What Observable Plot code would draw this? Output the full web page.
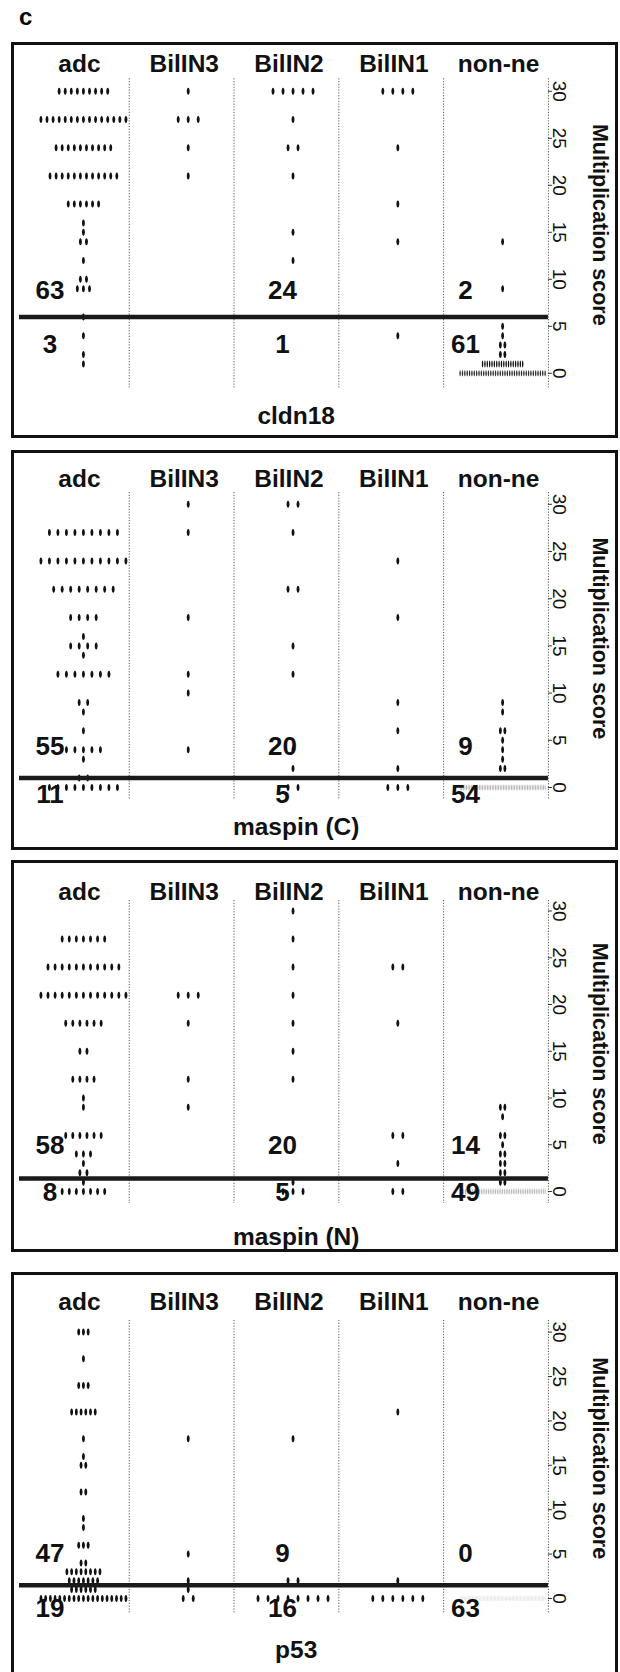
<!DOCTYPE html>
<html><head><meta charset="utf-8">
<script src="https://cdn.jsdelivr.net/npm/d3@7"></script>
<script src="https://cdn.jsdelivr.net/npm/@observablehq/plot@0.6"></script>
<style>
body{margin:0;background:#fff;width:620px;height:1672px;position:relative;overflow:hidden;font-family:"Liberation Sans",Arial,sans-serif;}
.panel{position:absolute;left:11px;width:607px;border:3px solid #111;box-sizing:border-box;background:#fff;}
.panel svg{display:block;overflow:visible;}
.letter{position:absolute;left:19px;top:3px;font-weight:bold;font-size:24px;}
</style></head><body>
<div class="letter">c</div>
<script>
// ---- categories / labels ----
const categories = ["adc", "BilIN3", "BilIN2", "BilIN1", "non-ne"];
const markers = ["cldn18", "maspin (C)", "maspin (N)", "p53"];
const yTicks = [0, 5, 10, 15, 20, 25, 30];
const axisTitle = "Multiplication score";

// ---- data: [score, number of cases] ----
const cldn18_adc    = [[30,9],[27,15],[24,10],[21,12],[18,6],[16,1],[15,1],[14,2],[12,1],[10,2],[9,3],[6,1],[4,1],[2,1],[1,1]];
const cldn18_bilin3 = [[30,1],[27,3],[24,1],[21,1]];
const cldn18_bilin2 = [[30,5],[27,1],[24,2],[21,1],[15,1],[12,1]];
const cldn18_bilin1 = [[30,4],[24,1],[18,1],[14,1],[4,1]];
const cldn18_nonne  = [[14,1],[9,1],[5,1],[4,1],[3,2],[2,2],[1,18],[0,37]];

const maspinC_adc    = [[27,9],[24,11],[21,8],[18,4],[16,1],[15,4],[14,1],[12,7],[9,2],[8,1],[6,1],[4,5],[3,1],[1,2],[0,9]];
const maspinC_bilin3 = [[30,1],[27,1],[18,1],[12,1],[10,1],[4,1]];
const maspinC_bilin2 = [[30,2],[27,1],[21,2],[15,1],[12,1],[4,1],[2,1],[0,2]];
const maspinC_bilin1 = [[24,1],[18,1],[9,1],[6,1],[2,1],[0,3]];
const maspinC_nonne  = [[9,1],[8,1],[6,2],[5,1],[4,1],[3,1],[2,2],[0,54]];

const maspinN_adc    = [[27,7],[24,11],[21,13],[18,6],[15,2],[12,4],[10,1],[9,1],[6,6],[4,3],[3,1],[2,2],[1,1],[0,7]];
const maspinN_bilin3 = [[21,3],[18,1],[12,1],[9,1]];
const maspinN_bilin2 = [[30,1],[27,1],[24,1],[21,1],[18,1],[15,1],[12,1],[1,1],[0,3]];
const maspinN_bilin1 = [[24,2],[18,1],[6,2],[3,1],[0,2]];
const maspinN_nonne  = [[9,2],[8,1],[6,2],[5,1],[4,2],[3,2],[2,2],[1,2],[0,49]];

const p53_adc    = [[30,3],[27,1],[24,3],[21,6],[18,1],[16,1],[15,2],[12,2],[9,1],[8,1],[6,3],[4,2],[3,8],[2,7],[1,6],[0,19]];
const p53_bilin3 = [[18,1],[5,1],[2,1],[1,1],[0,2]];
const p53_bilin2 = [[18,1],[2,2],[0,8]];
const p53_bilin1 = [[21,1],[2,1],[0,6]];
const p53_nonne  = [[0,63]];

// counts: [adc above, BilIN above, non-ne above, adc below, BilIN below, non-ne below]
const cldn18_counts  = [63, 24, 2, 3, 1, 61];
const maspinC_counts = [55, 20, 9, 11, 5, 54];
const maspinN_counts = [58, 20, 14, 8, 5, 49];
const p53_counts     = [47, 9, 0, 19, 16, 63];

// ---- layout (page px) ----
const panels = [
  {name: markers[0], groups: [cldn18_adc, cldn18_bilin3, cldn18_bilin2, cldn18_bilin1, cldn18_nonne], counts: cldn18_counts,
   top: 41.7, bottom: 438, y0: 372.5, ppu: 9.4, frameTop: 78, frameBottom: 387, headerY: 63.3, titleY: 415, cut: 6, labelAbove: 8.8, labelBelow: 3.0, denseFill: "#333"},
  {name: markers[1], groups: [maspinC_adc, maspinC_bilin3, maspinC_bilin2, maspinC_bilin1, maspinC_nonne], counts: maspinC_counts,
   top: 450, bottom: 850, y0: 787, ppu: 9.44, frameTop: 492, frameBottom: 800, headerY: 478.3, titleY: 826.7, cut: 1, labelAbove: 4.3, labelBelow: -0.75, denseFill: "#b0b0b0"},
  {name: markers[2], groups: [maspinN_adc, maspinN_bilin3, maspinN_bilin2, maspinN_bilin1, maspinN_nonne], counts: maspinN_counts,
   top: 860, bottom: 1252, y0: 1191, ppu: 9.35, frameTop: 900, frameBottom: 1203, headerY: 891.7, titleY: 1236.7, cut: 1.4, labelAbove: 4.9, labelBelow: -0.15, denseFill: "#b8b8b8"},
  {name: markers[3], groups: [p53_adc, p53_bilin3, p53_bilin2, p53_bilin1, p53_nonne], counts: p53_counts,
   top: 1272, bottom: 1675, y0: 1598, ppu: 8.88, frameTop: 1320, frameBottom: 1613, headerY: 1301.7, titleY: 1650, cut: 1.5, labelAbove: 5.07, labelBelow: -1.13, denseFill: "#e4e4e4"}
];

const PXU = 104.8;      // px per category step
const CAP = 10;         // max dot spacing px
const FILL = 85;        // max row width px
const BOUND = 0.437;    // divider offset from category centre
const XMIN = -0.61, XMAX = 4 + BOUND;
const labelX = [-0.32, 1.9, 3.645];

const symbolCache = new Map();
function ellipse(rx, ry) {
  const key = rx.toFixed(2) + "," + ry;
  if (symbolCache.has(key)) return symbolCache.get(key);
  const k = 0.5523;
  const sym = {draw(ctx) {
    ctx.moveTo(0, -ry);
    ctx.bezierCurveTo(k*rx, -ry, rx, -k*ry, rx, 0);
    ctx.bezierCurveTo(rx, k*ry, k*rx, ry, 0, ry);
    ctx.bezierCurveTo(-k*rx, ry, -rx, k*ry, -rx, 0);
    ctx.bezierCurveTo(-rx, -k*ry, -k*rx, -ry, 0, -ry);
    ctx.closePath();
  }};
  symbolCache.set(key, sym);
  return sym;
}

function buildDots(groups) {
  const out = [];
  groups.forEach((rows, ci) => {
    const maxN = d3.max(rows, r => r[1]);
    const s = maxN > 1 ? Math.min(CAP, FILL / (maxN - 1)) : CAP;
    rows.forEach(([score, n]) => {
      const sr = n <= 3 ? Math.max(s, 4.5) : s;
      const rx = n > 3 ? Math.min(1.45, sr * 0.3) : 1.45;
      for (let k = 0; k < n; k++) out.push({x: ci + (k - (n - 1) / 2) * sr / PXU, y: score, dense: n > 25, rx: Math.round(rx * 100) / 100});
    });
  });
  return out;
}

const font = "Liberation Sans, Arial, sans-serif";

panels.forEach(cfg => {
  const outerH = cfg.bottom - cfg.top;
  const W = 601, H = outerH - 6;
  const innerTop = cfg.top + 3;
  const fTop = cfg.frameTop - innerTop, fBot = cfg.frameBottom - innerTop;
  const yMax = (cfg.y0 - cfg.frameTop) / cfg.ppu, yMin = (cfg.y0 - cfg.frameBottom) / cfg.ppu;
  const dots = buildDots(cfg.groups);
  const rxs = Array.from(new Set(dots.map(d => d.rx)));
  const labels = cfg.counts.map((c, i) => ({x: labelX[i % 3], y: i < 3 ? cfg.labelAbove : cfg.labelBelow, text: String(c)}));
  const dividers = categories.map((c, i) => i + BOUND);

  const dotMarks = [];
  rxs.forEach(rx => {
    dotMarks.push(Plot.dot(dots.filter(d => d.dense && d.rx === rx), {x: "x", y: "y", symbol: ellipse(rx, 3.1), fill: cfg.denseFill, stroke: "none"}));
    dotMarks.push(Plot.dot(dots.filter(d => !d.dense && d.rx === rx), {x: "x", y: "y", symbol: ellipse(rx, 3.5), fill: "#111", stroke: "none"}));
  });

  const svg = Plot.plot({
    width: W, height: H,
    marginTop: fTop, marginBottom: H - fBot, marginLeft: 5, marginRight: W - 5 - (XMAX - XMIN) * PXU,
    x: {domain: [XMIN, XMAX], axis: null},
    y: {domain: [yMin, yMax], axis: null},
    style: {fontFamily: font, background: "white", overflow: "visible"},
    marks: [
      Plot.ruleX(dividers, {stroke: "#444", strokeWidth: 0.9, strokeDasharray: "1.2,1.6"}),
      Plot.ruleY(yTicks, {y: d => d, x1: XMAX, x2: XMAX + 4 / PXU, stroke: "#333", strokeWidth: 1}),
      Plot.text(yTicks, {x: XMAX, y: d => d, text: d => String(d), rotate: 90, dx: 11, fontSize: 19, textAnchor: "middle", lineAnchor: "middle", fill: "#111"}),
      Plot.text([axisTitle], {x: XMAX, y: 15.8, text: d => d, rotate: 90, dx: 51, fontSize: 21.5, fontWeight: "bold", textAnchor: "middle", lineAnchor: "middle", fill: "#111"}),
      ...dotMarks,
      Plot.ruleY([cfg.cut], {stroke: "#1a1a1a", strokeWidth: 4.5}),
      Plot.text(categories, {x: (d, i) => i, text: d => d, frameAnchor: "top", dy: cfg.headerY - cfg.frameTop, dx: -4, fontSize: 24.5, fontWeight: "bold", lineAnchor: "middle", fill: "#111"}),
      Plot.text(labels, {x: "x", y: "y", text: "text", fontSize: 26, fontWeight: "bold", lineAnchor: "middle", fill: "#111"}),
      Plot.text([cfg.name], {x: 2.03, text: d => d, frameAnchor: "bottom", dy: cfg.titleY - cfg.frameBottom, fontSize: 24.5, fontWeight: "bold", lineAnchor: "middle", fill: "#111"})
    ]
  });
  const div = document.createElement("div");
  div.className = "panel";
  div.style.top = cfg.top + "px";
  div.style.height = outerH + "px";
  div.appendChild(svg);
  document.body.appendChild(div);
});
</script>
</body></html>
